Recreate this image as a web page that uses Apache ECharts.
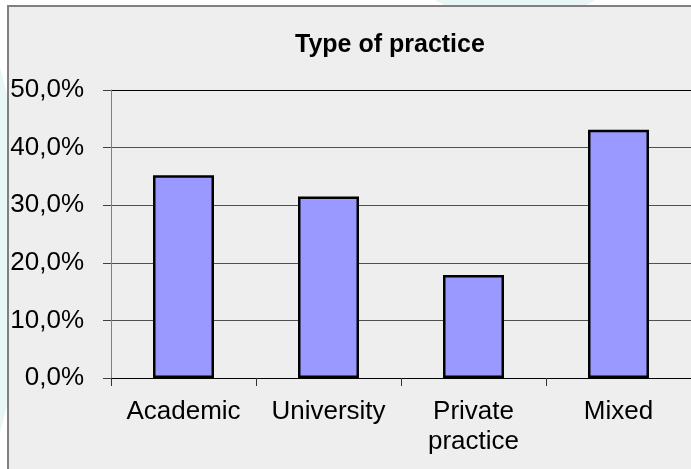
<!DOCTYPE html>
<html>
<head>
<meta charset="utf-8">
<script src="https://cdn.jsdelivr.net/npm/echarts@6/dist/echarts.min.js"></script>
<style>
  html, body { margin: 0; padding: 0; background: #ffffff; overflow: hidden; }
  #decor1 { position: absolute; left: -60px; top: 40px; width: 80px; height: 420px; border-radius: 50%; background: #e8f7f5; }
  #decor2 { position: absolute; left: 430px; top: -30px; width: 170px; height: 45px; border-radius: 50%; background: #e8f7f5; }
  #box { position: absolute; left: 7px; top: 5px; width: 760px; height: 560px; background: #eeeeee; border: 2px solid #808080; }
  #chart { position: absolute; left: 0; top: 0; width: 691px; height: 469px; }
</style>
</head>
<body>
<div id="decor1"></div>
<div id="decor2"></div>
<div id="box"></div>
<div id="chart"></div>
<script>
const titleText = 'Type of practice';
const categories = ['Academic', 'University', 'Private\npractice', 'Mixed'];
const values = [35.2, 31.5, 17.9, 43.1];
const yTicks = { min: 0, max: 50, interval: 10 };

const fontFamily = '"Liberation Sans", Arial, sans-serif';
const chart = echarts.init(document.getElementById('chart'), null, { renderer: 'canvas' });
chart.setOption({
  backgroundColor: 'transparent',
  animation: false,
  title: {
    text: titleText,
    left: 290,
    top: 28,
    textStyle: { fontFamily: fontFamily, fontSize: 25, fontWeight: 'bold', color: '#000' }
  },
  grid: { left: 111, top: 90, width: 587, height: 288, containLabel: false },
  xAxis: {
    type: 'category',
    data: categories,
    axisLine: { lineStyle: { color: '#000', width: 1 } },
    axisTick: { show: true, length: 8, interval: 0, lineStyle: { color: '#333' } },
    axisLabel: {
      interval: 0,
      margin: 19,
      fontFamily: fontFamily,
      fontSize: 26,
      lineHeight: 30,
      color: '#000'
    },
    splitLine: { show: false }
  },
  yAxis: {
    type: 'value',
    min: yTicks.min,
    max: yTicks.max,
    interval: yTicks.interval,
    axisLine: { show: true, lineStyle: { color: '#808080', width: 1 } },
    axisTick: { show: true, length: 8, lineStyle: { color: '#404040' } },
    axisLabel: {
      margin: 27,
      fontFamily: fontFamily,
      fontSize: 26,
      color: '#000',
      formatter: v => v.toFixed(1).replace('.', ',') + '%'
    },
    splitLine: { show: true, lineStyle: { color: ['#000', '#505050', '#505050', '#505050', '#505050', '#000'], width: 1 } }
  },
  series: [{
    type: 'bar',
    data: values,
    barWidth: 61,
    itemStyle: { color: '#9999ff', borderColor: '#000', borderWidth: 2.5 }
  }]
});
</script>
</body>
</html>
